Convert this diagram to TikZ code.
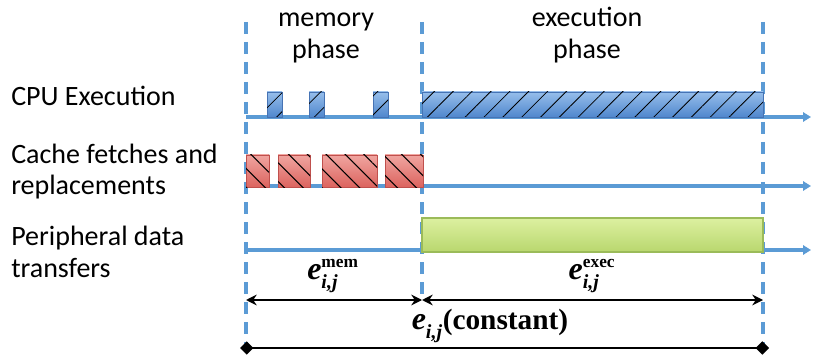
\documentclass[tikz,border=0pt]{standalone}
\usepackage{fontspec}
\setmainfont{Carlito}
\newfontfamily\timesbf{Liberation Serif}
\usetikzlibrary{arrows.meta,patterns.meta}

\definecolor{lineblue}{RGB}{91,155,213}
\definecolor{cpuhi}{RGB}{150,190,235}
\definecolor{cpulo}{RGB}{80,135,205}
\definecolor{cpuedge}{RGB}{70,115,180}
\definecolor{cachehi}{RGB}{240,165,160}
\definecolor{cachelo}{RGB}{220,100,95}
\definecolor{cacheedge}{RGB}{192,80,77}
\definecolor{perihi}{RGB}{220,240,160}
\definecolor{perilo}{RGB}{185,215,110}
\definecolor{periedge}{RGB}{155,187,89}

% e_{i,j} with a bold superscript
\newcommand{\eij}[1]{\timesbf\bfseries\fontsize{24}{24}\selectfont
  $\mbox{\itshape e}^{\mbox{\fontsize{13}{13}\selectfont #1}}_{\mbox{\fontsize{15}{15}\selectfont\itshape i,j}}$}

\begin{document}
\begin{tikzpicture}[x=0.75pt,y=-0.75pt]
    \tikzstyle{every node}=[inner sep=0pt, font=\fontsize{21}{24}\selectfont]
    \tikzstyle{phase}=[draw=lineblue, line width=3pt, dash pattern=on 9pt off 6pt]
    \tikzstyle{timeline}=[draw=lineblue, line width=3pt, -{Triangle[length=6pt,width=7pt]}]
    \tikzstyle{cpubox}=[draw=cpuedge, line width=0.6pt, top color=cpuhi, bottom color=cpulo,
        postaction={pattern={Lines[angle=45,distance=10pt,line width=0.6pt]}}]
    \tikzstyle{cachebox}=[draw=cacheedge, line width=0.6pt, top color=cachehi, bottom color=cachelo,
        postaction={pattern={Lines[angle=-45,distance=10pt,line width=0.8pt]}}]
    \tikzstyle{peribox}=[draw=periedge, line width=1pt, top color=perihi, bottom color=perilo]
    \tikzstyle{dim}=[draw=black, line width=1.5pt, {Stealth[length=8pt,width=8pt]}-{Stealth[length=8pt,width=8pt]}]
    \tikzstyle{total}=[draw=black, line width=1.5pt, {Diamond[length=10pt,width=10pt]}-{Diamond[length=10pt,width=10pt]}]
    \useasboundingbox (0,0) rectangle (813,356);

    % phase boundaries
    \coordinate (t0) at (246,22);  \coordinate (b0) at (246,344);
    \coordinate (t1) at (422,22);  \coordinate (b1) at (422,300);
    \coordinate (t2) at (763,22);  \coordinate (b2) at (763,344);
    \draw[phase] (t0) -- (b0);
    \draw[phase] (t1) -- (b1);
    \draw[phase] (t2) -- (b2);

    % time axes
    \coordinate (cpu0) at (246,117);  \coordinate (cpu1) at (811,117);
    \coordinate (cache0) at (246,186); \coordinate (cache1) at (811,186);
    \coordinate (peri0) at (246,250);  \coordinate (peri1) at (811,250);
    \draw[timeline] (cpu0) -- (cpu1);
    \draw[timeline] (cache0) -- (cache1);
    \draw[timeline] (peri0) -- (peri1);

    % cpu bursts
    \draw[cpubox] (267,92) rectangle (282,117);
    \draw[cpubox] (309,92) rectangle (324,117);
    \draw[cpubox] (373,92) rectangle (388,117);
    \draw[cpubox] (422,92) rectangle (763,117);

    % cache fetches
    \draw[cachebox] (246,155) rectangle (269,187);
    \draw[cachebox] (278,155) rectangle (310,187);
    \draw[cachebox] (322,155) rectangle (377,187);
    \draw[cachebox] (385,155) rectangle (423,187);

    % peripheral transfer
    \draw[peribox] (422,218) rectangle (763,252);

    % row labels (base = last line)
    \node[anchor=base west] (cpul) at (11,106) {CPU Execution};
    \node[anchor=base west, align=left] (cachel) at (11,195) {Cache fetches and\\replacements};
    \node[anchor=base west, align=left] (peril) at (11,277) {Peripheral data\\transfers};
    \node[anchor=base, align=center] (meml) at (326,59) {memory\\phase};
    \node[anchor=base, align=center] (execl) at (587,59) {execution\\phase};

    % lengths
    \coordinate (m0) at (246,300); \coordinate (m1) at (422,300); \coordinate (m2) at (763,300);
    \coordinate (d0) at (240,348); \coordinate (d1) at (769,348);
    \draw[dim] (m0) -- (m1);
    \draw[dim] (m1) -- (m2);
    \draw[total] (d0) -- (d1);
    \node (emem) at (333,276) {\eij{mem}};
    \node (eexec) at (592,276) {\eij{exec}};
    \node (etot) at (490,326) {\eij{}{\timesbf\bfseries\fontsize{22}{22}\selectfont(constant)}};
\end{tikzpicture}
\end{document}
